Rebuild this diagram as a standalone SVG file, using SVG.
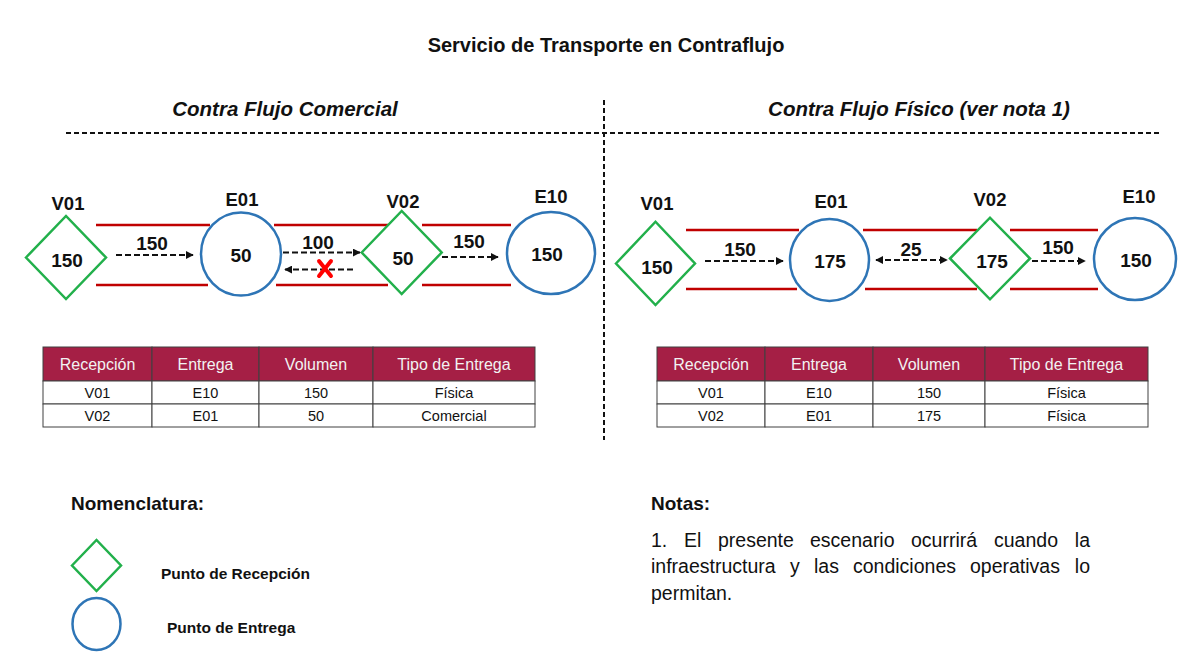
<svg xmlns="http://www.w3.org/2000/svg" width="1180" height="665" viewBox="0 0 1180 665">
<style>
text{font-family:"Liberation Sans",Arial,sans-serif;fill:#111}
.t{font-size:20px;font-weight:bold;text-anchor:middle}
.sub{font-size:20.5px;font-weight:bold;font-style:italic;text-anchor:middle}
.lbl{font-size:18.5px;font-weight:bold;text-anchor:middle}
.num{font-size:19px;font-weight:bold;text-anchor:middle}
.al{font-size:19px;font-weight:bold;text-anchor:middle}
.dia{fill:#fff;stroke:#22B04B;stroke-width:2.5}
.cir{fill:#fff;stroke:#2E75B6;stroke-width:2.5}
.pipe{stroke:#C00000;stroke-width:2.5}
.flow{stroke:#111;stroke-width:2;stroke-dasharray:6 3;fill:none}
.sep{stroke:#111;stroke-width:2;stroke-dasharray:5 3}
.hd{fill:#A51F45;stroke:#404040;stroke-width:1}
.cell{fill:#fff;stroke:#404040;stroke-width:1}
.th{font-size:16px;fill:#F2F2F2;text-anchor:middle}
.td{font-size:14.5px;text-anchor:middle}
.h2{font-size:19px;font-weight:bold}
.leg{font-size:15.5px;font-weight:bold}
.note{font-size:19.5px}
</style>
<defs>
<marker id="ah" viewBox="0 0 10 10" refX="9" refY="5" markerWidth="4" markerHeight="4" orient="auto-start-reverse" markerUnits="strokeWidth">
<path d="M0,0 L10,5 L0,10 z" fill="#111"/>
</marker>
</defs>
<rect width="1180" height="665" fill="#fff"/>

<g id="title">
<text class="t" x="606" y="52">Servicio de Transporte en Contraflujo</text>
<text class="sub" x="285" y="116">Contra Flujo Comercial</text>
<text class="sub" x="919" y="116">Contra Flujo Físico (ver nota 1)</text>
<line class="sep" x1="66" y1="133" x2="1160" y2="133"/>
<line class="sep" x1="604" y1="100" x2="604" y2="440"/>
</g>

<g id="pipes">
<line class="pipe" x1="96" y1="225" x2="210" y2="225"/>
<line class="pipe" x1="96" y1="285" x2="208" y2="285"/>
<line class="pipe" x1="274" y1="225" x2="388" y2="225"/>
<line class="pipe" x1="276" y1="285" x2="388" y2="285"/>
<line class="pipe" x1="422" y1="225" x2="511" y2="225"/>
<line class="pipe" x1="422" y1="285" x2="511" y2="285"/>
<line class="pipe" x1="686" y1="230" x2="799" y2="230"/>
<line class="pipe" x1="686" y1="289" x2="797" y2="289"/>
<line class="pipe" x1="863" y1="230" x2="977" y2="230"/>
<line class="pipe" x1="865" y1="289" x2="977" y2="289"/>
<line class="pipe" x1="1010" y1="230" x2="1098" y2="230"/>
<line class="pipe" x1="1010" y1="289" x2="1098" y2="289"/>
</g>

<g id="L-V01"><polygon class="dia" points="26,257.5 66,216 106,257.5 66,299"/><text class="lbl" x="68" y="210">V01</text><text class="num" x="67" y="267">150</text></g>
<g id="L-E01"><ellipse class="cir" cx="241" cy="254" rx="40" ry="41.5"/><text class="lbl" x="242" y="206">E01</text><text class="num" x="241" y="261.5">50</text></g>
<g id="L-V02"><polygon class="dia" points="361.7,252.5 401.7,211 441.7,252.5 401.7,294"/><text class="lbl" x="403" y="208">V02</text><text class="num" x="403" y="264.5">50</text></g>
<g id="L-E10"><ellipse class="cir" cx="551" cy="253" rx="44" ry="41"/><text class="lbl" x="551" y="203">E10</text><text class="num" x="547" y="261">150</text></g>

<g id="R-V01"><polygon class="dia" points="616,263.5 655.5,221.7 695,263.5 655.5,305"/><text class="lbl" x="657" y="210">V01</text><text class="num" x="657" y="273.5">150</text></g>
<g id="R-E01"><ellipse class="cir" cx="829.5" cy="260" rx="39.5" ry="41"/><text class="lbl" x="831" y="208">E01</text><text class="num" x="830" y="267.5">175</text></g>
<g id="R-V02"><polygon class="dia" points="950,258.5 990,217.7 1030,258.5 990,299.3"/><text class="lbl" x="990" y="206">V02</text><text class="num" x="992" y="268">175</text></g>
<g id="R-E10"><ellipse class="cir" cx="1135" cy="259" rx="41" ry="41"/><text class="lbl" x="1139" y="203">E10</text><text class="num" x="1136" y="267">150</text></g>

<g id="connectors">
<line class="flow" x1="116" y1="255" x2="193" y2="255" marker-end="url(#ah)"/>
<text class="al" x="152" y="250">150</text>
<line class="flow" x1="283" y1="252.5" x2="360" y2="252.5" marker-end="url(#ah)"/>
<text class="al" x="318" y="249">100</text>
<line class="flow" x1="353" y1="269.5" x2="285" y2="269.5" marker-end="url(#ah)"/>
<g stroke="#FF0000" stroke-width="4" stroke-linecap="round"><line x1="319" y1="261" x2="331" y2="276"/><line x1="331" y1="261" x2="319" y2="276"/></g>
<line class="flow" x1="442" y1="257" x2="498" y2="257" marker-end="url(#ah)"/>
<text class="al" x="469" y="248">150</text>

<line class="flow" x1="705" y1="261" x2="783" y2="261" marker-end="url(#ah)"/>
<text class="al" x="740" y="256">150</text>
<line class="flow" x1="876" y1="260" x2="947" y2="260" marker-start="url(#ah)" marker-end="url(#ah)"/>
<text class="al" x="911" y="256">25</text>
<line class="flow" x1="1032" y1="261" x2="1085" y2="261" marker-end="url(#ah)"/>
<text class="al" x="1058" y="254">150</text>
</g>

<g id="table-left">
<rect class="hd" x="43" y="347" width="109" height="34"/>
<rect class="hd" x="152" y="347" width="107" height="34"/>
<rect class="hd" x="259" y="347" width="114" height="34"/>
<rect class="hd" x="373" y="347" width="162" height="34"/>
<rect class="cell" x="43" y="381" width="109" height="23"/>
<rect class="cell" x="152" y="381" width="107" height="23"/>
<rect class="cell" x="259" y="381" width="114" height="23"/>
<rect class="cell" x="373" y="381" width="162" height="23"/>
<rect class="cell" x="43" y="404" width="109" height="23"/>
<rect class="cell" x="152" y="404" width="107" height="23"/>
<rect class="cell" x="259" y="404" width="114" height="23"/>
<rect class="cell" x="373" y="404" width="162" height="23"/>
<text class="th" x="97.5" y="370">Recepción</text>
<text class="th" x="205.5" y="370">Entrega</text>
<text class="th" x="316" y="370">Volumen</text>
<text class="th" x="454" y="370">Tipo de Entrega</text>
<text class="td" x="97.5" y="398">V01</text>
<text class="td" x="205.5" y="398">E10</text>
<text class="td" x="316" y="398">150</text>
<text class="td" x="454" y="398">Física</text>
<text class="td" x="97.5" y="421">V02</text>
<text class="td" x="205.5" y="421">E01</text>
<text class="td" x="316" y="421">50</text>
<text class="td" x="454" y="421">Comercial</text>
</g>

<g id="table-right">
<rect class="hd" x="657" y="347" width="108" height="34"/>
<rect class="hd" x="765" y="347" width="108" height="34"/>
<rect class="hd" x="873" y="347" width="112" height="34"/>
<rect class="hd" x="985" y="347" width="163" height="34"/>
<rect class="cell" x="657" y="381" width="108" height="23"/>
<rect class="cell" x="765" y="381" width="108" height="23"/>
<rect class="cell" x="873" y="381" width="112" height="23"/>
<rect class="cell" x="985" y="381" width="163" height="23"/>
<rect class="cell" x="657" y="404" width="108" height="23"/>
<rect class="cell" x="765" y="404" width="108" height="23"/>
<rect class="cell" x="873" y="404" width="112" height="23"/>
<rect class="cell" x="985" y="404" width="163" height="23"/>
<text class="th" x="711" y="370">Recepción</text>
<text class="th" x="819" y="370">Entrega</text>
<text class="th" x="929" y="370">Volumen</text>
<text class="th" x="1066.5" y="370">Tipo de Entrega</text>
<text class="td" x="711" y="398">V01</text>
<text class="td" x="819" y="398">E10</text>
<text class="td" x="929" y="398">150</text>
<text class="td" x="1066.5" y="398">Física</text>
<text class="td" x="711" y="421">V02</text>
<text class="td" x="819" y="421">E01</text>
<text class="td" x="929" y="421">175</text>
<text class="td" x="1066.5" y="421">Física</text>
</g>

<g id="legend">
<text class="h2" x="71" y="510">Nomenclatura:</text>
<polygon class="dia" points="72,565.5 96.5,540 121,565.5 96.5,591"/>
<text class="leg" x="161" y="579">Punto de Recepción</text>
<ellipse class="cir" cx="96.5" cy="624" rx="24" ry="26"/>
<text class="leg" x="167" y="633">Punto de Entrega</text>
</g>

<g id="notes">
<text class="h2" x="651" y="510">Notas:</text>
<text class="note" y="547"><tspan x="651">1.</tspan><tspan x="684">El</tspan><tspan x="718">presente</tspan><tspan x="810">escenario</tspan><tspan x="911">ocurrirá</tspan><tspan x="994">cuando</tspan><tspan x="1090" text-anchor="end">la</tspan></text>
<text class="note" y="573"><tspan x="651">infraestructura</tspan><tspan x="790">y</tspan><tspan x="814">las</tspan><tspan x="853">condiciones</tspan><tspan x="970">operativas</tspan><tspan x="1090" text-anchor="end">lo</tspan></text>
<text class="note" x="651" y="600">permitan.</text>
</g>
</svg>
